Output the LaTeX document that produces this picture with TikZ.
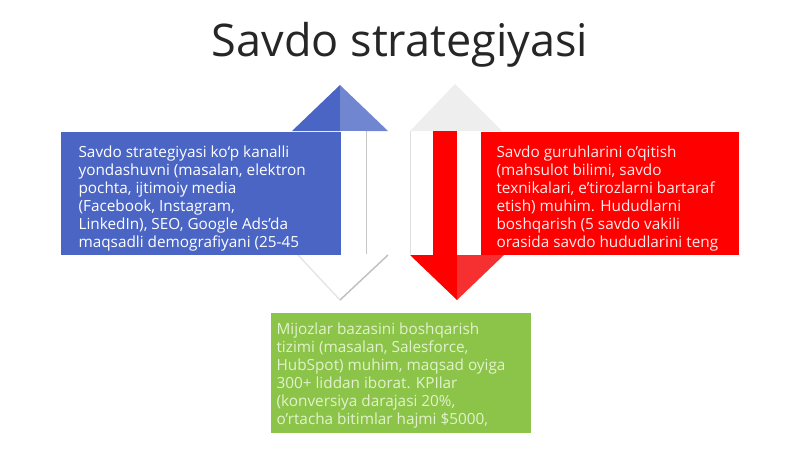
\documentclass[tikz,border=0pt]{standalone}
\usepackage{fontspec}
\setmainfont{Open Sans}
\usetikzlibrary{positioning}
\definecolor{titleGray}{RGB}{38,38,38}
\definecolor{stratBlue}{RGB}{74,101,196}
\definecolor{stratBlueLight}{RGB}{112,134,208}
\definecolor{trainRed}{RGB}{255,0,0}
\definecolor{trainRedLight}{RGB}{246,48,48}
\definecolor{crmGreen}{RGB}{140,196,74}
\definecolor{crmText}{RGB}{226,242,204}
\definecolor{arrowGray}{RGB}{238,238,238}
\tikzset{every picture/.style={line width=0.8pt}}
\tikzset{
  panel/.style={rectangle, anchor=north west, inner sep=0pt},
  paneltext/.style={anchor=west, align=left, inner sep=0pt, font=\fontsize{10.9}{12.8}\selectfont},
}

\begin{document}
\begin{tikzpicture}[x=0.025cm, y=-0.025cm]
\useasboundingbox (0,0) rectangle (800,449);
    % Title
\node[text=titleGray, font=\fontsize{32}{38}\selectfont] (title) at (400,45) {Savdo strategiyasi};

    % Left pair of arrows: blue up, white down
\fill[stratBlue] (292,131) -- (340,85) -- (340,131) -- cycle;
\fill[stratBlueLight] (340,85) -- (388,131) -- (340,131) -- cycle;
\fill[white] (340,131) rectangle (366,254);
\draw[gray!45, line width=0.6pt] (366,131) -- (366,254);
\fill[white] (298,255) -- (340,300) -- (388,255) -- cycle;
\draw[gray!20, line width=1pt] (298,255) -- (340,300);
\draw[gray!50, line width=1pt] (340,300) -- (388,255);

    % Right pair of arrows: gray up, red down
\fill[arrowGray] (410,131) -- (455,84) -- (502,131) -- cycle;
\draw[gray!25, line width=0.6pt] (410,131) -- (410,254);
\fill[trainRed] (433,131) rectangle (457,255);
\fill[trainRed] (410,255) -- (457,300) -- (457,255) -- cycle;
\fill[trainRedLight] (457,255) -- (457,300) -- (504,255) -- cycle;

    % Three text panels
\node[panel, fill=stratBlue, minimum width=7cm, minimum height=3.075cm] (strategyBox) at (60,131) {};
\node[panel, fill=trainRed, minimum width=6.45cm, minimum height=3.075cm] (trainingBox) at (480,131) {};
\node[panel, fill=crmGreen, minimum width=6.5cm, minimum height=3cm] (crmBox) at (270,312) {};

\node[paneltext, text=white] (strategyText) at ([xshift=0.45cm, yshift=-0.125cm]strategyBox.west) {Savdo strategiyasi ko‘p kanalli\\yondashuvni (masalan, elektron\\pochta, ijtimoiy media\\(Facebook, Instagram,\\LinkedIn), SEO, Google Ads’da\\maqsadli demografiyani (25-45};
\node[paneltext, text=white!92!red] (trainingText) at ([xshift=0.4cm, yshift=-0.125cm]trainingBox.west) {Savdo guruhlarini o'qitish\\(mahsulot bilimi, savdo\\texnikalari, e'tirozlarni bartaraf\\etish) muhim. Hududlarni\\boshqarish (5 savdo vakili\\orasida savdo hududlarini teng};
\node[paneltext, text=crmText] (crmText) at ([xshift=0.15cm, yshift=-0.08cm]crmBox.west) {Mijozlar bazasini boshqarish\\tizimi (masalan, Salesforce,\\HubSpot) muhim, maqsad oyiga\\300+ liddan iborat. KPIlar\\(konversiya darajasi 20\%,\\o'rtacha bitimlar hajmi \$5000,};
\end{tikzpicture}
\end{document}
